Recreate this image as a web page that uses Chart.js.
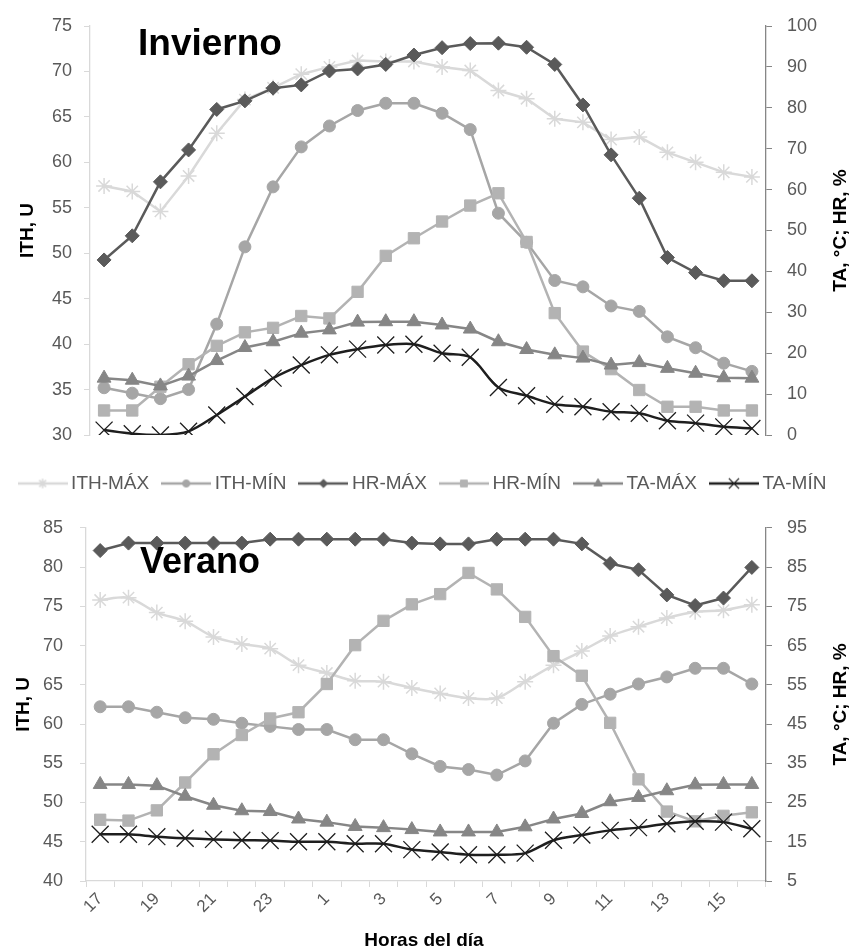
<!DOCTYPE html>
<html lang="es">
<head>
<meta charset="UTF-8">
<title>ITH, TA y HR por hora del día</title>
<script src="https://cdn.jsdelivr.net/npm/chart.js"></script>
<style>
  body { margin: 0; background: #fff; }
  #lienzo { width: 850px; height: 950px; }
  #lienzo canvas { display: block; }
</style>
</head>
<body>
<div id="lienzo">
  <canvas id="canvasInvierno" width="850" height="500"></canvas>
  <canvas id="canvasVerano" width="850" height="450"></canvas>
</div>

<script>
const horas = [17, 18, 19, 20, 21, 22, 23, 0, 1, 2, 3, 4, 5, 6, 7, 8, 9, 10, 11, 12, 13, 14, 15, 16];
const series = ['ITH-MÁX', 'ITH-MÍN', 'HR-MÁX', 'HR-MÍN', 'TA-MÁX', 'TA-MÍN'];

// Invierno
const ithMaxInv = [57.4, 56.8, 54.6, 58.5, 63.2, 66.9, 68.2, 69.7, 70.5, 71.2, 71.1, 71.1, 70.5, 70.1, 67.9, 67.0, 64.8, 64.4, 62.5, 62.8, 61.1, 60.0, 58.9, 58.4];
const ithMinInv = [35.2, 34.6, 34.0, 35.0, 42.2, 50.7, 57.3, 61.7, 64.0, 65.7, 66.5, 66.5, 65.4, 63.6, 54.4, 51.2, 47.0, 46.3, 44.2, 43.6, 40.8, 39.6, 37.9, 37.0];
const hrMaxInv  = [42.8, 48.7, 61.9, 69.7, 79.6, 81.7, 84.8, 85.6, 89.0, 89.5, 90.6, 92.9, 94.7, 95.7, 95.8, 94.8, 90.6, 80.7, 68.5, 57.9, 43.4, 39.7, 37.7, 37.7];
const hrMinInv  = [6.0, 6.0, 11.8, 17.3, 21.8, 25.1, 26.2, 29.1, 28.5, 35.0, 43.8, 48.1, 52.2, 56.1, 59.1, 47.2, 29.8, 20.4, 16.1, 11.0, 6.9, 6.9, 6.0, 6.0];
const taMaxInv  = [13.9, 13.4, 12.0, 14.4, 18.2, 21.4, 22.8, 24.9, 25.7, 27.6, 27.7, 27.7, 26.9, 25.9, 22.8, 20.9, 19.6, 18.8, 17.1, 17.7, 16.3, 15.1, 14.0, 13.9];
const taMinInv  = [1.2, 0.3, 0.0, 0.9, 4.9, 9.4, 13.9, 17.1, 19.6, 21.0, 22.0, 22.2, 20.0, 19.0, 11.6, 9.6, 7.5, 6.9, 5.7, 5.3, 3.5, 2.9, 2.0, 1.6];

// Verano
const ithMaxVer = [75.8, 76.1, 74.2, 73.1, 71.1, 70.2, 69.6, 67.5, 66.5, 65.5, 65.4, 64.6, 63.9, 63.3, 63.3, 65.4, 67.5, 69.3, 71.2, 72.4, 73.5, 74.3, 74.5, 75.2];
const ithMinVer = [62.2, 62.2, 61.5, 60.8, 60.6, 60.1, 59.7, 59.3, 59.3, 58.0, 58.0, 56.2, 54.6, 54.2, 53.5, 55.3, 60.1, 62.5, 63.8, 65.1, 66.0, 67.1, 67.1, 65.1];
const hrMaxVer  = [89.2, 91.1, 91.1, 91.1, 91.1, 91.1, 92.1, 92.1, 92.1, 92.1, 92.1, 91.1, 90.9, 90.9, 92.1, 92.1, 92.1, 90.9, 85.9, 84.3, 77.9, 75.2, 77.1, 84.9];
const hrMinVer  = [20.6, 20.4, 23.0, 30.1, 37.3, 42.2, 46.4, 48.0, 55.2, 65.1, 71.3, 75.5, 78.1, 83.5, 79.3, 72.3, 62.3, 57.3, 45.3, 30.9, 22.7, 20.2, 21.6, 22.5];
const taMaxVer  = [29.6, 29.6, 29.3, 26.6, 24.3, 22.9, 22.7, 20.8, 20.0, 18.9, 18.6, 18.1, 17.5, 17.5, 17.5, 18.8, 20.8, 22.2, 25.2, 26.3, 28.0, 29.5, 29.6, 29.6];
const taMinVer  = [16.9, 16.9, 16.3, 15.9, 15.6, 15.4, 15.3, 15.0, 15.0, 14.5, 14.5, 13.0, 12.4, 11.7, 11.7, 12.1, 15.4, 16.7, 17.9, 18.6, 19.6, 20.2, 20.0, 18.3];

// marcas de los ejes
const ejeIthInv = [30, 35, 40, 45, 50, 55, 60, 65, 70, 75];
const ejeTaHrInv = [0, 10, 20, 30, 40, 50, 60, 70, 80, 90, 100];
const ejeIthVer = [40, 45, 50, 55, 60, 65, 70, 75, 80, 85];
const ejeTaHrVer = [5, 15, 25, 35, 45, 55, 65, 75, 85, 95];

const fuente = '"Liberation Sans", Arial, sans-serif';
const gris = '#595959';

// estilo de cada serie (mismo orden que "series")
const estilos = [
    { color: '#d9d9d9', punto: 'star',     radio: 8,  borde: 1.5, eje: 'y'  },
    { color: '#a6a6a6', punto: 'circle',   radio: 6,  borde: 1,   eje: 'y'  },
    { color: '#5a5a5a', punto: 'rectRot',  radio: 7,  borde: 1,   eje: 'y1' },
    { color: '#b3b3b3', punto: 'rect',     radio: 8,  borde: 1,   eje: 'y1' },
    { color: '#868686', punto: 'triangle', radio: 8,  borde: 1,   eje: 'y1' },
    { color: '#1e1e1e', punto: 'crossRot', radio: 12, borde: 1.3, eje: 'y1' }
];

// iconos de la leyenda: línea con la marca en el centro
const iconos = estilos.map(e => {
    const c = document.createElement('canvas');
    c.width = 50; c.height = 20;
    const g = c.getContext('2d');
    g.strokeStyle = e.color; g.fillStyle = e.color; g.lineWidth = 2.5;
    g.beginPath(); g.moveTo(0, 10); g.lineTo(50, 10); g.stroke();
    g.lineWidth = e.borde;
    if (Chart.helpers && Chart.helpers.drawPoint) {
        Chart.helpers.drawPoint(g, { pointStyle: e.punto, radius: e.radio * 0.6, borderWidth: e.borde, rotation: 0 }, 25, 10);
    }
    return c;
});

function armarDatasets(listas, suaves) {
    return listas.map((datos, i) => {
        const e = estilos[i];
        return {
            label: series[i],
            data: datos,
            yAxisID: e.eje,
            borderColor: e.color,
            backgroundColor: e.color,
            borderWidth: 2.5,
            pointStyle: e.punto,
            pointRadius: e.radio,
            pointBorderWidth: e.borde,
            pointBackgroundColor: e.color,
            pointBorderColor: e.color,
            tension: suaves.includes(i) ? 0.3 : 0,
            order: 6 - i
        };
    });
}

function ejeY(marcas, posicion, ancho, colorLinea, relleno) {
    return {
        type: 'linear',
        position: posicion,
        min: marcas[0],
        max: marcas[marcas.length - 1],
        afterBuildTicks: s => { s.ticks = marcas.map(v => ({ value: v })); },
        afterFit: s => { s.width = ancho; },
        ticks: { color: gris, font: { family: fuente, size: 18 }, padding: relleno },
        grid: { drawOnChartArea: false, color: colorLinea, tickLength: 6 },
        border: { color: colorLinea, width: 1.3 }
    };
}

// titulos del panel y de los ejes
const textosPanel = {
    id: 'textosPanel',
    afterDraw(chart, args, o) {
        const ctx = chart.ctx;
        const area = chart.chartArea;
        const medio = (area.top + area.bottom) / 2;
        ctx.save();
        ctx.fillStyle = '#000';
        ctx.textAlign = 'left';
        ctx.textBaseline = 'alphabetic';
        ctx.font = 'bold ' + o.tam + 'px ' + fuente;
        ctx.fillText(o.nombre, o.x, o.y);

        ctx.font = 'bold 19px ' + fuente;
        ctx.textAlign = 'center';
        ctx.textBaseline = 'middle';
        ctx.save();
        ctx.translate(o.xIzq, medio);
        ctx.rotate(-Math.PI / 2);
        ctx.fillText('ITH, U', 0, 0);
        ctx.restore();
        ctx.save();
        ctx.translate(841, medio);
        ctx.rotate(-Math.PI / 2);
        ctx.fillText('TA, °C; HR, %', 0, 0);
        ctx.restore();

        if (o.tituloX) {
            ctx.fillText('Horas del día', o.tituloX[0], o.tituloX[1]);
        }
        ctx.restore();
    }
};

new Chart(document.getElementById('canvasInvierno'), {
    type: 'line',
    data: {
        labels: horas,
        datasets: armarDatasets([ithMaxInv, ithMinInv, hrMaxInv, hrMinInv, taMaxInv, taMinInv], [5])
    },
    options: {
        responsive: false,
        animation: false,
        layout: { padding: { top: 26, left: 0, right: 0, bottom: 0 } },
        scales: {
            x: {
                offset: true,
                ticks: { display: false },
                grid: { display: false },
                border: { display: false },
                afterFit: s => { s.height = 21; }
            },
            y: ejeY(ejeIthInv, 'left', 90, '#d9d9d9', 12),
            y1: ejeY(ejeTaHrInv, 'right', 84, '#868686', 15)
        },
        plugins: {
            tooltip: { enabled: false },
            legend: {
                position: 'bottom',
                labels: {
                    usePointStyle: true,
                    pointStyleWidth: 38,
                    padding: 18,
                    color: gris,
                    font: { family: fuente, size: 19 },
                    sort: (a, b) => a.datasetIndex - b.datasetIndex,
                    generateLabels(chart) {
                        const items = Chart.defaults.plugins.legend.labels.generateLabels(chart);
                        items.forEach(it => { it.pointStyle = iconos[it.datasetIndex]; });
                        return items;
                    }
                }
            },
            textosPanel: { nombre: 'Invierno', tam: 37, x: 138, y: 55, xIzq: 28 }
        }
    },
    plugins: [textosPanel, {
        id: 'altoLeyenda',
        beforeInit(chart) {
            const fitOriginal = chart.legend.fit;
            chart.legend.fit = function () {
                fitOriginal.call(chart.legend);
                this.height = 44;
            };
        }
    }]
});

new Chart(document.getElementById('canvasVerano'), {
    type: 'line',
    data: {
        labels: horas,
        datasets: armarDatasets([ithMaxVer, ithMinVer, hrMaxVer, hrMinVer, taMaxVer, taMinVer], [0, 5])
    },
    options: {
        responsive: false,
        animation: false,
        layout: { padding: { top: 17, left: 0, right: 0, bottom: 0 } },
        scales: {
            x: {
                offset: true,
                afterFit: s => { s.height = 69; },
                ticks: {
                    autoSkip: false,
                    minRotation: 45,
                    maxRotation: 45,
                    color: gris,
                    font: { family: fuente, size: 17 },
                    padding: 2,
                    callback: (v, i) => (i % 2 === 0 ? horas[i] : '')
                },
                grid: { offset: true, drawOnChartArea: false, color: '#d9d9d9', tickLength: 6 },
                border: { color: '#d9d9d9', width: 1.3 }
            },
            y: ejeY(ejeIthVer, 'left', 86, '#d9d9d9', 17),
            y1: ejeY(ejeTaHrVer, 'right', 84, '#868686', 15)
        },
        plugins: {
            tooltip: { enabled: false },
            legend: { display: false },
            textosPanel: { nombre: 'Verano', tam: 36, x: 140, y: 73, xIzq: 24, tituloX: [424, 441] }
        }
    },
    plugins: [textosPanel]
});
</script>
</body>
</html>
